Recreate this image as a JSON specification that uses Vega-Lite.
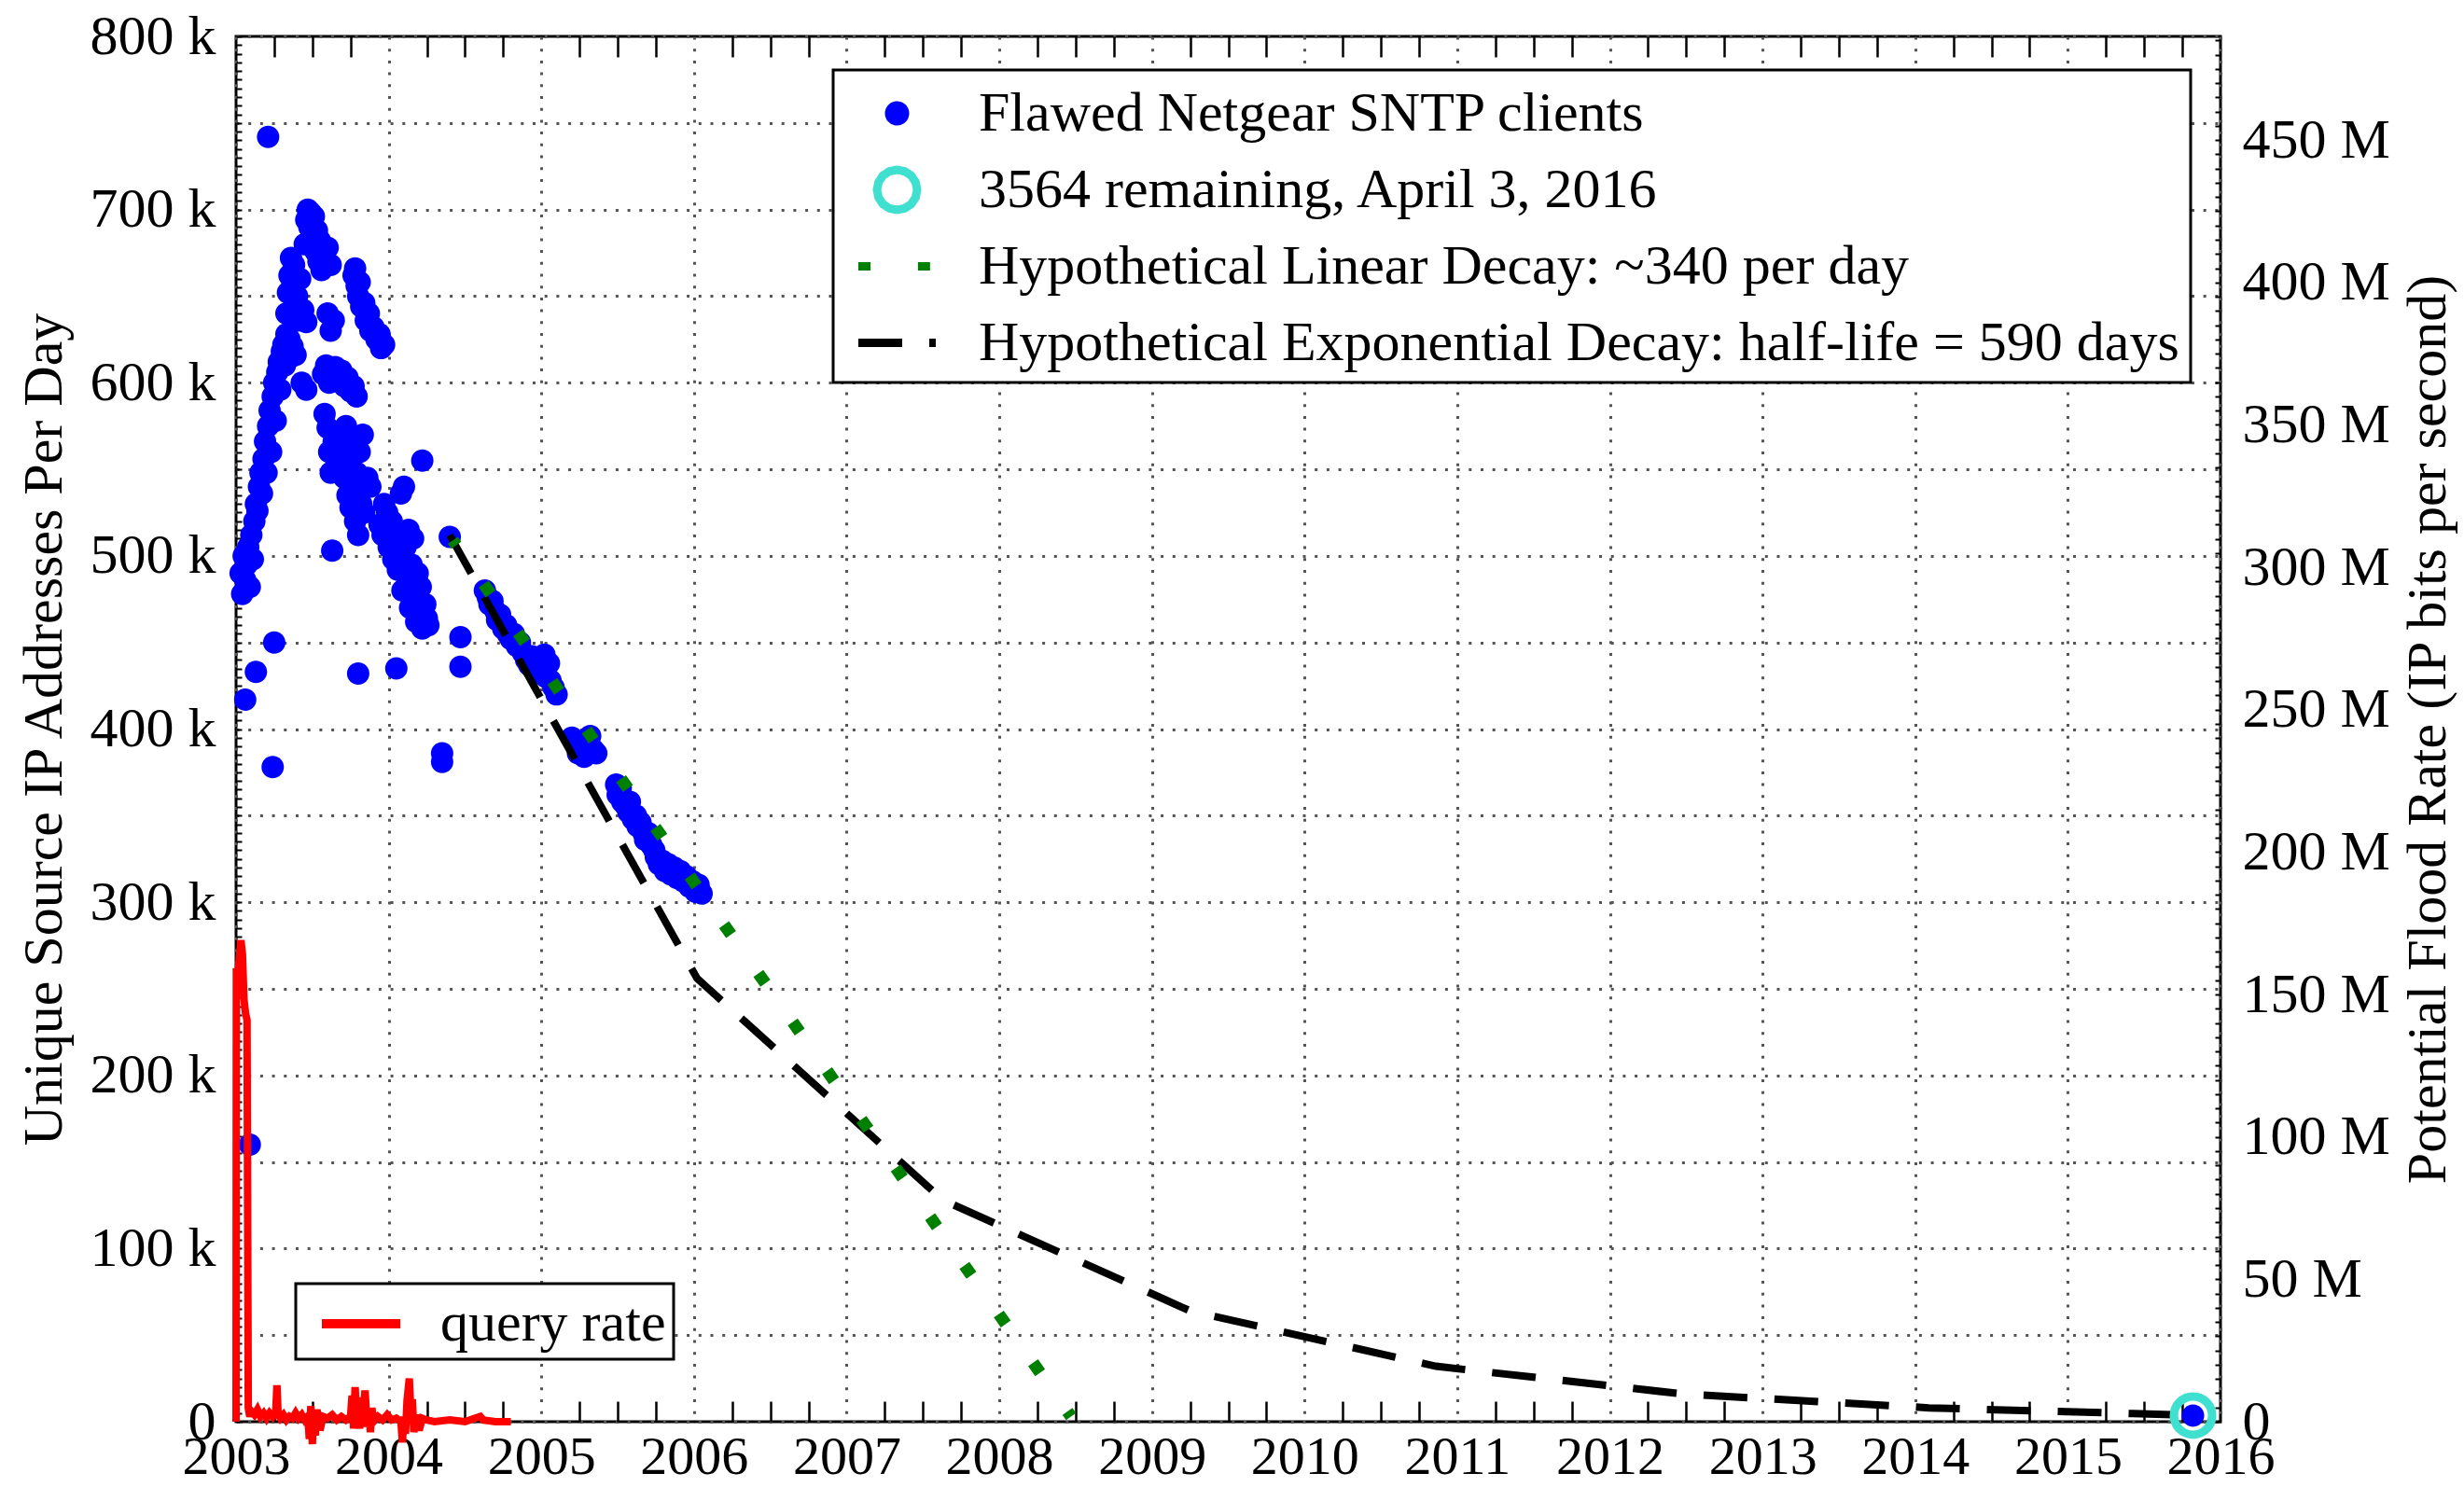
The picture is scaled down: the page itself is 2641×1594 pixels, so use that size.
{
  "$schema": "https://vega.github.io/schema/vega-lite/v6.json",
  "width": 2127,
  "height": 1485,
  "autosize": "none",
  "padding": {"left": 253, "top": 39, "right": 261, "bottom": 70},
  "background": "white",
  "config": {
    "font": "Liberation Serif",
    "view": {"stroke": "black", "strokeWidth": 3},
    "axis": {
      "labelFont": "Liberation Serif", "titleFont": "Liberation Serif",
      "labelColor": "black", "titleColor": "black", "titleFontWeight": "normal",
      "labelFontSize": 60, "titleFontSize": 60, "domain": false, "labelOverlap": false
    },
    "legend": {"labelFont": "Liberation Serif", "labelFontSize": 60, "labelColor": "black", "labelLimit": 3000, "strokeColor": "black", "fillColor": "white", "strokeWidth": 3}
  },
  "datasets": {
    "pts": [
      {"t":2003.03,"v":490},{"t":2003.04,"v":478},{"t":2003.05,"v":500},{"t":2003.06,"v":486},{"t":2003.07,"v":495},{"t":2003.08,"v":505},{"t":2003.09,"v":482},{"t":2003.10,"v":512},{"t":2003.11,"v":498},{"t":2003.12,"v":520},{"t":2003.13,"v":530},{"t":2003.14,"v":526},{"t":2003.15,"v":540},{"t":2003.16,"v":548},{"t":2003.17,"v":536},{"t":2003.18,"v":556},{"t":2003.19,"v":566},{"t":2003.20,"v":548},{"t":2003.21,"v":575},{"t":2003.22,"v":584},{"t":2003.23,"v":560},{"t":2003.24,"v":592},{"t":2003.25,"v":600},{"t":2003.26,"v":578},{"t":2003.27,"v":606},{"t":2003.28,"v":612},{"t":2003.29,"v":596},{"t":2003.30,"v":618},{"t":2003.31,"v":622},{"t":2003.32,"v":610},{"t":2003.33,"v":628},{"t":2003.34,"v":618},{"t":2003.35,"v":625},{"t":2003.36,"v":615},{"t":2003.37,"v":621},{"t":2003.39,"v":616},
      {"t":2003.33,"v":640},{"t":2003.34,"v":652},{"t":2003.35,"v":662},{"t":2003.36,"v":672},{"t":2003.37,"v":658},{"t":2003.38,"v":668},{"t":2003.39,"v":645},{"t":2003.40,"v":650},{"t":2003.41,"v":636},{"t":2003.42,"v":660},{"t":2003.44,"v":642},{"t":2003.46,"v":635},
      {"t":2003.45,"v":680},{"t":2003.46,"v":694},{"t":2003.47,"v":700},{"t":2003.48,"v":690},{"t":2003.49,"v":698},{"t":2003.50,"v":685},{"t":2003.51,"v":696},{"t":2003.52,"v":676},{"t":2003.53,"v":688},{"t":2003.54,"v":670},{"t":2003.55,"v":682},{"t":2003.56,"v":665},{"t":2003.58,"v":672},{"t":2003.60,"v":678},{"t":2003.62,"v":668},
      {"t":2003.60,"v":640},{"t":2003.62,"v":630},{"t":2003.64,"v":636},{"t":2003.43,"v":600},{"t":2003.46,"v":596},
      {"t":2003.57,"v":605},{"t":2003.59,"v":610},{"t":2003.61,"v":600},{"t":2003.63,"v":604},{"t":2003.65,"v":609},{"t":2003.67,"v":602},{"t":2003.69,"v":607},{"t":2003.71,"v":598},{"t":2003.73,"v":603},{"t":2003.75,"v":595},{"t":2003.77,"v":598},{"t":2003.79,"v":592},
      {"t":2003.58,"v":582},{"t":2003.60,"v":574},{"t":2003.61,"v":560},{"t":2003.62,"v":548},{"t":2003.64,"v":566},{"t":2003.66,"v":555},{"t":2003.68,"v":570},{"t":2003.70,"v":560},{"t":2003.71,"v":545},{"t":2003.72,"v":575},{"t":2003.73,"v":535},{"t":2003.74,"v":552},{"t":2003.75,"v":528},{"t":2003.76,"v":565},{"t":2003.77,"v":540},{"t":2003.78,"v":520},{"t":2003.79,"v":548},{"t":2003.80,"v":512},{"t":2003.81,"v":560},{"t":2003.82,"v":530},{"t":2003.83,"v":570},{"t":2003.84,"v":525},{"t":2003.86,"v":545},{"t":2003.88,"v":540},
      {"t":2003.77,"v":662},{"t":2003.78,"v":666},{"t":2003.79,"v":656},{"t":2003.80,"v":650},{"t":2003.81,"v":658},{"t":2003.82,"v":644},{"t":2003.84,"v":646},{"t":2003.85,"v":636},{"t":2003.87,"v":640},{"t":2003.88,"v":630},{"t":2003.90,"v":632},{"t":2003.92,"v":625},{"t":2003.94,"v":628},{"t":2003.95,"v":620},{"t":2003.97,"v":622},
      {"t":2003.94,"v":518},{"t":2003.96,"v":512},{"t":2003.97,"v":530},{"t":2003.99,"v":525},{"t":2004.00,"v":505},{"t":2004.02,"v":520},{"t":2004.03,"v":498},{"t":2004.05,"v":510},{"t":2004.06,"v":492},{"t":2004.08,"v":536},{"t":2004.09,"v":480},{"t":2004.10,"v":540},{"t":2004.11,"v":505},{"t":2004.12,"v":488},{"t":2004.13,"v":515},{"t":2004.14,"v":470},{"t":2004.15,"v":495},{"t":2004.16,"v":510},{"t":2004.17,"v":478},{"t":2004.18,"v":462},{"t":2004.19,"v":490},{"t":2004.20,"v":468},{"t":2004.21,"v":482},{"t":2004.22,"v":458},{"t":2004.24,"v":472},{"t":2004.25,"v":464},{"t":2004.26,"v":460},
      {"t":2003.21,"v":742},{"t":2003.25,"v":450},{"t":2003.13,"v":433},{"t":2003.06,"v":417},{"t":2003.24,"v":378},{"t":2003.09,"v":160},{"t":2003.63,"v":503},{"t":2003.80,"v":432},{"t":2004.05,"v":435},{"t":2004.22,"v":555},{"t":2004.40,"v":511},{"t":2004.47,"v":453},{"t":2004.47,"v":436},{"t":2004.35,"v":386},{"t":2004.35,"v":381},
      {"t":2004.63,"v":480},{"t":2004.65,"v":476},{"t":2004.66,"v":472},{"t":2004.68,"v":474},{"t":2004.70,"v":468},{"t":2004.71,"v":463},{"t":2004.73,"v":466},{"t":2004.75,"v":458},{"t":2004.77,"v":460},{"t":2004.78,"v":455},{"t":2004.80,"v":452},{"t":2004.82,"v":455},{"t":2004.84,"v":448},{"t":2004.86,"v":450},{"t":2004.88,"v":444},{"t":2004.90,"v":440},{"t":2004.92,"v":437},{"t":2004.94,"v":442},{"t":2004.96,"v":434},{"t":2004.98,"v":436},{"t":2005.00,"v":432},{"t":2005.02,"v":443},{"t":2005.03,"v":430},{"t":2005.05,"v":438},{"t":2005.06,"v":428},{"t":2005.08,"v":424},{"t":2005.10,"v":420},
      {"t":2005.20,"v":395},{"t":2005.22,"v":392},{"t":2005.24,"v":386},{"t":2005.26,"v":390},{"t":2005.28,"v":384},{"t":2005.30,"v":393},{"t":2005.32,"v":396},{"t":2005.34,"v":388},{"t":2005.36,"v":386},
      {"t":2005.49,"v":368},{"t":2005.50,"v":362},{"t":2005.52,"v":366},{"t":2005.53,"v":358},{"t":2005.55,"v":356},{"t":2005.57,"v":352},{"t":2005.58,"v":358},{"t":2005.60,"v":348},{"t":2005.62,"v":350},{"t":2005.63,"v":344},{"t":2005.65,"v":346},{"t":2005.67,"v":340},{"t":2005.68,"v":336},{"t":2005.70,"v":340},{"t":2005.72,"v":333},{"t":2005.74,"v":330},{"t":2005.75,"v":326},{"t":2005.77,"v":322},{"t":2005.79,"v":324},{"t":2005.81,"v":318},{"t":2005.83,"v":322},{"t":2005.85,"v":316},{"t":2005.87,"v":320},{"t":2005.89,"v":314},{"t":2005.91,"v":318},{"t":2005.93,"v":312},{"t":2005.95,"v":315},{"t":2005.97,"v":309},{"t":2005.99,"v":312},{"t":2006.01,"v":306},{"t":2006.03,"v":310},{"t":2006.05,"v":305},
      {"t":2015.82,"v":3.564}
    ],
    "expo": [
      {"t":2004.40,"v":512},{"t":2006.02,"v":256},{"t":2007.63,"v":128},{"t":2009.25,"v":64},{"t":2010.86,"v":32},{"t":2012.48,"v":16},{"t":2014.09,"v":8},{"t":2015.71,"v":4},{"t":2015.82,"v":3.6}
    ],
    "lin": [
      {"t":2004.42,"v":509},{"t":2008.47,"v":3}
    ],
    "qr": [
      {"t":2003.0,"v":0},{"t":2003.002,"v":262},{"t":2003.012,"v":255},{"t":2003.022,"v":268},{"t":2003.032,"v":278},{"t":2003.042,"v":270},{"t":2003.052,"v":244},{"t":2003.062,"v":236},{"t":2003.072,"v":232},{"t":2003.08,"v":8},{"t":2003.09,"v":3},{"t":2003.1,"v":6},{"t":2003.12,"v":4},{"t":2003.14,"v":7},{"t":2003.16,"v":3},{"t":2003.18,"v":5},{"t":2003.2,"v":2},{"t":2003.22,"v":5},{"t":2003.24,"v":3},{"t":2003.26,"v":6},{"t":2003.268,"v":21},{"t":2003.276,"v":4},{"t":2003.29,"v":2},{"t":2003.31,"v":4},{"t":2003.33,"v":1},{"t":2003.35,"v":3},{"t":2003.37,"v":2},{"t":2003.39,"v":5},{"t":2003.41,"v":2},{"t":2003.43,"v":4},{"t":2003.45,"v":1},{"t":2003.47,"v":3},{"t":2003.48,"v":-10},{"t":2003.49,"v":9},{"t":2003.5,"v":-13},{"t":2003.51,"v":6},{"t":2003.52,"v":-8},{"t":2003.53,"v":7},{"t":2003.55,"v":-5},{"t":2003.57,"v":3},{"t":2003.6,"v":2},{"t":2003.63,"v":4},{"t":2003.66,"v":1},{"t":2003.69,"v":3},{"t":2003.72,"v":1},{"t":2003.75,"v":3},{"t":2003.76,"v":15},{"t":2003.77,"v":-4},{"t":2003.78,"v":20},{"t":2003.79,"v":3},{"t":2003.8,"v":11},{"t":2003.81,"v":-4},{"t":2003.82,"v":14},{"t":2003.83,"v":2},{"t":2003.845,"v":18},{"t":2003.86,"v":-3},{"t":2003.87,"v":7},{"t":2003.88,"v":-6},{"t":2003.89,"v":8},{"t":2003.9,"v":0},{"t":2003.93,"v":3},{"t":2003.96,"v":1},{"t":2003.99,"v":4},{"t":2004.02,"v":1},{"t":2004.05,"v":2},{"t":2004.08,"v":0},{"t":2004.09,"v":-12},{"t":2004.1,"v":3},{"t":2004.11,"v":-7},{"t":2004.12,"v":12},{"t":2004.135,"v":25},{"t":2004.145,"v":5},{"t":2004.155,"v":13},{"t":2004.165,"v":-6},{"t":2004.18,"v":4},{"t":2004.2,"v":-5},{"t":2004.22,"v":2},{"t":2004.25,"v":1},{"t":2004.3,"v":0},{"t":2004.4,"v":1},{"t":2004.5,"v":0},{"t":2004.6,"v":3},{"t":2004.62,"v":1},{"t":2004.7,"v":0},{"t":2004.8,"v":0}
    ],
    "last": [{"t":2015.82,"v":3.564}]
  },
  "resolve": {"scale": {"y": "independent"}},
  "layer": [
    {
      "encoding": {
        "x": {
          "field": "t", "type": "quantitative",
          "scale": {"domain": [2003, 2016], "nice": false, "zero": false},
          "axis": {
            "orient": "bottom", "title": null,
            "values": [2003,2003.25,2003.5,2003.75,2004,2004.25,2004.5,2004.75,2005,2005.25,2005.5,2005.75,2006,2006.25,2006.5,2006.75,2007,2007.25,2007.5,2007.75,2008,2008.25,2008.5,2008.75,2009,2009.25,2009.5,2009.75,2010,2010.25,2010.5,2010.75,2011,2011.25,2011.5,2011.75,2012,2012.25,2012.5,2012.75,2013,2013.25,2013.5,2013.75,2014,2014.25,2014.5,2014.75,2015,2015.25,2015.5,2015.75,2016],
            "labelExpr": "datum.value % 1 === 0 ? '' + datum.value : ''",
            "labelFontSize": 58, "labelFlush": false, "labelPadding": 31,
            "ticks": true, "tickSize": -22, "tickWidth": 2.5, "tickColor": "black",
            "tickOpacity": {"condition": {"test": "datum.value % 1 === 0", "value": 0}, "value": 1},
            "grid": true, "gridColor": "#555555", "gridWidth": 3, "gridDash": [3, 9.7],
            "gridOpacity": {"condition": {"test": "datum.value % 1 !== 0", "value": 0}, "value": 1}
          }
        },
        "y": {
          "field": "v", "type": "quantitative",
          "scale": {"domain": [0, 800], "nice": false},
          "axis": {
            "orient": "left", "title": "Unique Source IP Addresses Per Day",
            "tickCount": 160,
            "labelExpr": "datum.value % 100 === 0 ? (datum.value === 0 ? '0' : datum.value + ' k') : ''",
            "labelPadding": 28,
            "ticks": true, "tickSize": -6, "tickWidth": 2, "tickColor": "black",
            "grid": true, "gridColor": "#555555", "gridWidth": 3, "gridDash": [3, 9.7],
            "gridOpacity": {"condition": {"test": "datum.value % 50 !== 0", "value": 0}, "value": 1},
            "titleAngle": 270, "titleBaseline": "middle", "titleAlign": "center", "titleX": -206
          }
        }
      },
      "layer": [
        {
          "data": {"name": "pts"},
          "mark": {"type": "point", "filled": true, "size": 7176, "opacity": 1, "strokeWidth": 0},
          "encoding": {
            "color": {
              "datum": "Flawed Netgear SNTP clients", "type": "nominal",
              "scale": {
                "domain": ["Flawed Netgear SNTP clients", "3564 remaining, April 3, 2016", "Hypothetical Linear Decay: ~340 per day", "Hypothetical Exponential Decay: half-life = 590 days"],
                "range": ["#0000ff", "#40e0d0", "#008000", "#000000"]
              },
              "legend": {
                "orient": "none", "legendX": 640, "legendY": 36, "title": null,
                "symbolSize": 3600, "symbolStrokeWidth": 9, "symbolOffset": 22,
                "labelOffset": 53, "rowPadding": 1, "padding": 12, "gridAlign": "all"
              }
            },
            "shape": {
              "datum": "Flawed Netgear SNTP clients", "type": "nominal",
              "scale": {
                "domain": ["Flawed Netgear SNTP clients", "3564 remaining, April 3, 2016", "Hypothetical Linear Decay: ~340 per day", "Hypothetical Exponential Decay: half-life = 590 days"],
                "range": [
                  "M0.2833,0A0.2833,0.2833,0,1,1,-0.2833,0A0.2833,0.2833,0,1,1,0.2833,0Z",
                  "M0.717,0L0.662,0.274L0.507,0.507L0.274,0.662L0,0.717L-0.274,0.662L-0.507,0.507L-0.662,0.274L-0.717,0L-0.662,-0.274L-0.507,-0.507L-0.274,-0.662L0,-0.717L0.274,-0.662L0.507,-0.507L0.662,-0.274ZM0.717,0L0.662,-0.274L0.507,-0.507L0.274,-0.662L0,-0.717L-0.274,-0.662L-0.507,-0.507L-0.662,-0.274L-0.717,0L-0.662,0.274L-0.507,0.507L-0.274,0.662L0,0.717L0.274,0.662L0.507,0.507L0.662,0.274Z",
                  "M-1.383,0L1.383,0",
                  "M-1.383,0L1.383,0"
                ]
              },
              "legend": {"title": null}
            }
          }
        },
        {
          "data": {"name": "expo"},
          "mark": {"type": "line", "strokeWidth": 8, "strokeCap": "butt"},
          "encoding": {
            "color": {"datum": "Hypothetical Exponential Decay: half-life = 590 days", "type": "nominal"},
            "strokeDash": {
              "datum": "Hypothetical Exponential Decay: half-life = 590 days", "type": "nominal",
              "scale": {
                "domain": ["Flawed Netgear SNTP clients", "3564 remaining, April 3, 2016", "Hypothetical Linear Decay: ~340 per day", "Hypothetical Exponential Decay: half-life = 590 days"],
                "range": [[1, 0], [1, 0], [13, 50.85], [47, 29]]
              },
              "legend": {"title": null}
            }
          }
        },
        {
          "data": {"name": "lin"},
          "mark": {"type": "line", "strokeWidth": 13, "strokeDashOffset": 6.5, "strokeCap": "butt"},
          "encoding": {
            "color": {"datum": "Hypothetical Linear Decay: ~340 per day", "type": "nominal"},
            "strokeDash": {"datum": "Hypothetical Linear Decay: ~340 per day", "type": "nominal"}
          }
        },
        {
          "data": {"name": "qr"},
          "mark": {"type": "line", "strokeWidth": 8},
          "encoding": {
            "stroke": {
              "datum": "query rate", "type": "nominal",
              "scale": {"domain": ["query rate"], "range": ["#ff0000"]},
              "legend": {
                "orient": "none", "legendX": 64, "legendY": 1337, "title": null,
                "symbolType": "M-1.4,0L1.4,0", "symbolSize": 3600, "symbolStrokeWidth": 10, "symbolOffset": 27,
                "labelOffset": 50, "padding": 8
              }
            }
          }
        },
        {
          "data": {"name": "last"},
          "mark": {"type": "point", "filled": false, "size": 1681, "strokeWidth": 9, "opacity": 1},
          "encoding": {"color": {"datum": "3564 remaining, April 3, 2016", "type": "nominal"}}
        }
      ]
    },
    {
      "data": {"name": "last"},
      "mark": {"type": "point", "opacity": 0},
      "encoding": {
        "x": {
          "field": "t", "type": "quantitative",
          "axis": {
            "orient": "top", "title": null, "labels": false,
            "values": [2003,2003.25,2003.5,2003.75,2004,2004.25,2004.5,2004.75,2005,2005.25,2005.5,2005.75,2006,2006.25,2006.5,2006.75,2007,2007.25,2007.5,2007.75,2008,2008.25,2008.5,2008.75,2009,2009.25,2009.5,2009.75,2010,2010.25,2010.5,2010.75,2011,2011.25,2011.5,2011.75,2012,2012.25,2012.5,2012.75,2013,2013.25,2013.5,2013.75,2014,2014.25,2014.5,2014.75,2015,2015.25,2015.5,2015.75,2016],
            "ticks": true, "tickSize": -22, "tickWidth": 2.5, "tickColor": "black",
            "tickOpacity": {"condition": {"test": "datum.value % 1 === 0", "value": 0}, "value": 1},
            "grid": false
          }
        },
        "y": {
          "field": "v", "type": "quantitative",
          "scale": {"domain": [0, 486.4], "nice": false},
          "axis": {
            "orient": "right", "title": "Potential Flood Rate (IP bits per second)",
            "tickCount": 97,
            "labelExpr": "datum.value % 50 === 0 ? (datum.value === 0 ? '0' : datum.value + ' M') : ''",
            "labelPadding": 29,
            "ticks": true, "tickSize": -6, "tickWidth": 2, "tickColor": "black",
            "grid": false,
            "titleAngle": 270, "titleBaseline": "middle", "titleAlign": "center", "titleX": 222
          }
        }
      }
    }
  ]
}
